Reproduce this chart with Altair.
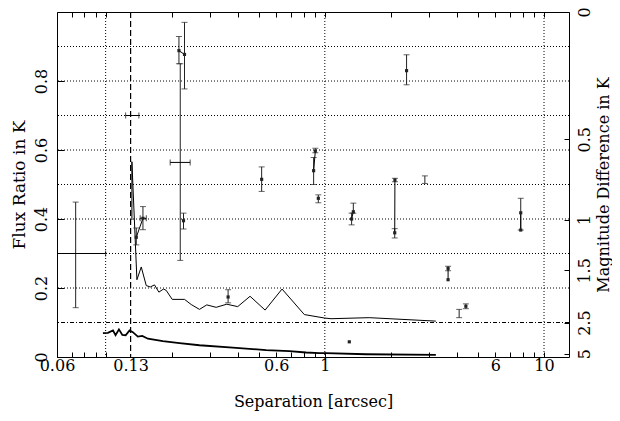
import math
import altair as alt
import pandas as pd

# ---------------- data ----------------
# upper (detection limit) curve
up_x = [0.1318, 0.1318, 0.1389, 0.1454, 0.1532, 0.1598, 0.1671, 0.1749, 0.1837, 0.189,
        0.2013, 0.2291, 0.2458, 0.268, 0.2893, 0.3193, 0.357, 0.4005, 0.456, 0.534,
        0.638, 0.8065, 0.995, 1.067, 1.595, 3.21]
up_y = [0.397, 0.566, 0.224, 0.261, 0.207, 0.203, 0.209, 0.188, 0.197, 0.193,
        0.167, 0.167, 0.152, 0.138, 0.151, 0.144, 0.153, 0.146, 0.176, 0.136,
        0.197, 0.123, 0.113, 0.111, 0.114, 0.104]
# lower curve
lo_x = [0.0972, 0.1024, 0.108, 0.111, 0.115, 0.1192, 0.1234, 0.1286, 0.1331, 0.1403,
        0.147, 0.1559, 0.1824, 0.2174, 0.268, 0.380, 0.540, 0.689, 0.821, 0.944,
        1.013, 1.541, 3.21]
lo_y = [0.069, 0.070, 0.077, 0.063, 0.080, 0.064, 0.063, 0.077, 0.072, 0.059,
        0.061, 0.053, 0.046, 0.040, 0.034, 0.027, 0.020, 0.017, 0.013, 0.011,
        0.011, 0.008, 0.006]

# measured companions
pt_id = ["A", "B", "C", "D1", "D2", "E1", "E2", "F", "G", "H", "I1", "I2", "J", "K1", "K2",
         "L1", "L2", "M", "N1", "N2", "O1", "O2", "P", "Q", "R", "S"]
pt_x = [0.073, 0.1323, 0.219, 0.138, 0.148, 0.216, 0.229, 0.2266, 0.362, 0.515, 0.889, 0.905,
        0.934, 1.325, 1.349, 2.084, 2.088, 2.86, 7.83, 7.83, 3.65, 3.65, 4.10, 4.40, 1.293, 2.36]
pt_y = [0.30, 0.70, 0.564, 0.347, 0.402, 0.888, 0.877, 0.395, 0.174, 0.515, 0.54, 0.597,
        0.46, 0.40, 0.421, 0.36, 0.513, 0.515, 0.418, 0.368, 0.257, 0.224, 0.126, 0.147, 0.044, 0.83]
pt_lo = [0.143, None, 0.28, 0.325, 0.369, 0.85, 0.777, 0.371, 0.157, 0.48, 0.50, 0.592,
         0.447, 0.383, 0.417, 0.345, 0.508, 0.503, 0.368, None, 0.25, None, 0.114, 0.14, None, 0.789]
pt_hi = [0.449, None, 0.85, 0.374, 0.436, 0.929, 0.97, 0.417, 0.195, 0.551, 0.578, 0.605,
         0.47, 0.417, 0.446, 0.372, 0.518, 0.525, 0.46, None, 0.263, None, 0.138, 0.154, None, 0.876]
pt_marker = [False, False, False, True, True, True, True, True, True, True, True, True,
             True, True, True, True, True, False, True, True, True, True, False, True, True, True]
# horizontal (separation) error bars
xe_id = ["A", "B", "C", "D2"]
xe_lo = [0.0535, 0.1234, 0.197, 0.1438]
xe_hi = [0.1, 0.1418, 0.243, 0.1533]
xe_y = [0.30, 0.70, 0.564, 0.402]
# pairs joined by a line (two epochs)
pairs = [("D1", "D2"), ("E1", "E2"), ("I1", "I2"), ("K1", "K2"), ("L1", "L2"), ("N1", "N2"), ("O1", "O2")]

# axes / grid
x_labels = [0.06, 0.13, 0.6, 1, 6, 10]
x_minor = [0.06, 0.07, 0.08, 0.09, 0.1, 0.2, 0.3, 0.4, 0.5, 0.6, 0.7, 0.8, 0.9,
           1, 2, 3, 4, 5, 6, 7, 8, 9, 10]
x_grid = [0.1, 1, 10]
x_dashed = [0.13]
y_labels = [0, 0.2, 0.4, 0.6, 0.8]
y_grid = [0.2, 0.3, 0.4, 0.5, 0.6, 0.7, 0.8, 0.9]
y_dashdot = [0.1]
dm_ticks = [0, 0.5, 1, 1.5, 2.5, 5]

# ---------------- frames ----------------
pts = pd.DataFrame({"id": pt_id, "x": pt_x, "y": pt_y, "lo": pt_lo, "hi": pt_hi, "m": pt_marker})
err = pts.dropna(subset=["lo", "hi"])
mk = pts[pts["m"]]
xe = pd.DataFrame({"id": xe_id, "lo": xe_lo, "hi": xe_hi, "y": xe_y})
pos = dict(zip(pt_id, zip(pt_x, pt_y)))
pair_rows = []
for k, (a, b) in enumerate(pairs):
    for n in (a, b):
        pair_rows.append({"g": k, "x": pos[n][0], "y": pos[n][1]})
pair_df = pd.DataFrame(pair_rows)
up = pd.DataFrame({"x": up_x, "y": up_y, "o": range(len(up_x))})
lo = pd.DataFrame({"x": lo_x, "y": lo_y, "o": range(len(lo_x))})
flux_ticks = [10 ** (-0.4 * m) for m in dm_ticks]

W, H = 512, 345
FONT = "DejaVu Serif"
xs = alt.Scale(type="log", domain=[0.06, 13], nice=False)
ys = alt.Scale(domain=[0, 1], nice=False, zero=False)

def X(f="x", axis=None):
    return alt.X(f"{f}:Q", scale=xs, axis=axis)

def Y(f="y", axis=None):
    return alt.Y(f"{f}:Q", scale=ys, axis=axis)

# grid
grid_h = alt.Chart(pd.DataFrame({"y": y_grid})).mark_rule(
    color="black", strokeWidth=1, strokeDash=[1, 2]).encode(
    y=Y(axis=alt.Axis(orient="left", values=y_labels, format="~g", ticks=False, domain=False,
                      grid=False, labelAngle=270, labelAlign="center", labelBaseline="bottom",
                      labelPadding=8, labelFontSize=16,
                      title="Flux Ratio in K", titlePadding=5)))
grid_dd = alt.Chart(pd.DataFrame({"y": y_dashdot})).mark_rule(
    color="black", strokeWidth=1, strokeDash=[4, 2, 1, 2]).encode(y=Y())
grid_v = alt.Chart(pd.DataFrame({"x": x_grid})).mark_rule(
    color="black", strokeWidth=1, strokeDash=[1, 2]).encode(
    x=X(axis=alt.Axis(orient="bottom", values=x_labels, format="~g", ticks=False, tickSize=0,
                      domain=False, grid=False, labelPadding=0, labelFontSize=16,
                      title="Separation [arcsec]", titlePadding=20, titleFontSize=16,
                      labelFlush=False, labelOverlap=False)))
dash_v = alt.Chart(pd.DataFrame({"x": x_dashed})).mark_rule(
    color="black", strokeWidth=1.2, strokeDash=[6, 3]).encode(x=X())

# inward tick axes
tb = alt.Chart(pd.DataFrame({"x": x_minor})).mark_rule(opacity=0).encode(
    x=X(axis=alt.Axis(orient="bottom", values=x_minor, offset=-5, tickSize=5, labels=False,
                      domain=False, grid=False, title=None, tickColor="black")))
tt = alt.Chart(pd.DataFrame({"x": x_minor})).mark_rule(opacity=0).encode(
    x=X(axis=alt.Axis(orient="top", values=x_minor, offset=-5, tickSize=5, labels=False,
                      domain=False, grid=False, title=None, tickColor="black")))
tl = alt.Chart(pd.DataFrame({"y": y_labels})).mark_rule(opacity=0).encode(
    y=Y(axis=alt.Axis(orient="left", values=y_labels, offset=-7, tickSize=7, labels=False,
                      domain=False, grid=False, title=None, tickColor="black")))
tr = alt.Chart(pd.DataFrame({"y": flux_ticks})).mark_rule(opacity=0).encode(
    y=Y(axis=alt.Axis(orient="right", values=flux_ticks, offset=-5, tickSize=5, labels=False,
                      domain=False, grid=False, title=None, tickColor="black")))
rl = alt.Chart(pd.DataFrame({"y": flux_ticks})).mark_rule(opacity=0).encode(
    y=Y(axis=alt.Axis(orient="right", values=flux_ticks, ticks=False, domain=False, grid=False,
                      labelExpr="'' + round(-25*log(datum.value)/LN10)/10",
                      labelAngle=270, labelAlign="center", labelBaseline="top", labelPadding=7,
                      labelFontSize=16,
                      title="Magnitude Difference in K", titleAngle=270, titleBaseline="top",
                      titlePadding=3, titleFontSize=16)))

# curves
c_up = alt.Chart(up).mark_line(color="black", strokeWidth=1).encode(x=X(), y=Y(), order="o:Q")
c_lo = alt.Chart(lo).mark_line(color="black", strokeWidth=1.8).encode(x=X(), y=Y(), order="o:Q")

# data
ebar = alt.Chart(err).mark_rule(color="#222", strokeWidth=1).encode(x=X(), y=Y("lo"), y2="hi:Q")
cap_lo = alt.Chart(err).mark_tick(color="#222", orient="horizontal", size=6, thickness=1).encode(x=X(), y=Y("lo"))
cap_hi = alt.Chart(err).mark_tick(color="#222", orient="horizontal", size=6, thickness=1).encode(x=X(), y=Y("hi"))
xbar = alt.Chart(xe).mark_rule(color="black", strokeWidth=1, clip=True).encode(x=X("lo"), x2="hi:Q", y=Y())
xcap_lo = alt.Chart(xe).mark_tick(color="black", orient="vertical", size=6, thickness=1, clip=True).encode(x=X("lo"), y=Y())
xcap_hi = alt.Chart(xe).mark_tick(color="black", orient="vertical", size=6, thickness=1, clip=True).encode(x=X("hi"), y=Y())
plines = alt.Chart(pair_df).mark_line(color="black", strokeWidth=1).encode(x=X(), y=Y(), detail="g:N")
marks = alt.Chart(mk).mark_square(color="#222", size=10, opacity=1).encode(x=X(), y=Y())

chart = alt.layer(
    grid_h, grid_dd, grid_v, dash_v, tb, tt, tl, tr, rl,
    c_up, c_lo, ebar, cap_lo, cap_hi, xbar, xcap_lo, xcap_hi, plines, marks
).resolve_axis(x="independent", y="independent").properties(
    width=W, height=H,
    padding={"left": 49, "top": 4, "right": 43, "bottom": 56},
    autosize=alt.AutoSizeParams(type="none"),
    background="white",
).configure_view(stroke="black", strokeWidth=1).configure_axis(
    labelFont=FONT, labelFontSize=15, labelColor="black",
    titleFont=FONT, titleFontSize=17, titleFontWeight="normal", titleColor="black",
)

chart.save("out.html", embed_options={"renderer": "svg", "actions": False})
